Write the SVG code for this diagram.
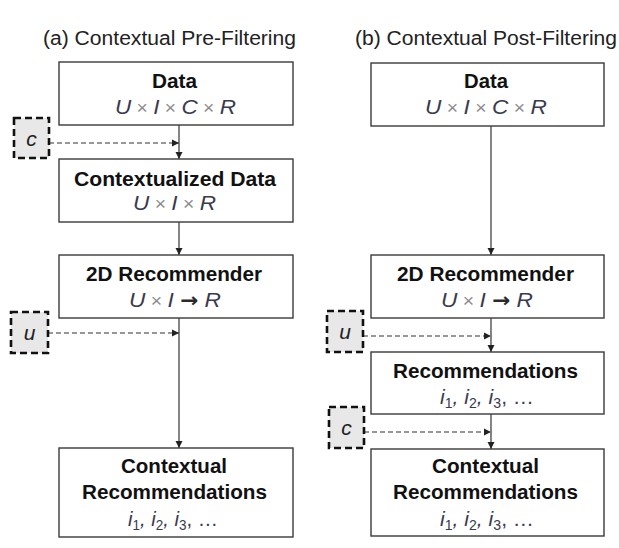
<svg xmlns="http://www.w3.org/2000/svg" width="619" height="548" viewBox="0 0 619 548">
<defs>
<marker id="ah" viewBox="0 0 10 10" refX="10" refY="5" markerWidth="7" markerHeight="8" markerUnits="userSpaceOnUse" orient="auto"><path d="M0,0 L10,5 L0,10 Z" fill="#222"/></marker>
<style>
text{font-family:"Liberation Sans",Arial,sans-serif;}
.title{font-size:19.5px;fill:#222;}
.lbl{font-size:20px;font-weight:bold;fill:#111;}
.math{font-size:21px;font-style:italic;fill:#3a3a4e;}
.x{font-style:normal;fill:#8a8a8a;font-size:18px;}
.arr{font-family:"DejaVu Sans",sans-serif;font-style:normal;font-weight:bold;fill:#2a2a2a;font-size:20px;}
.sub{font-size:14px;font-style:normal;}
.box{fill:#fff;stroke:#3a3a3a;stroke-width:1.4;}
.vbox{fill:#e8e8e8;stroke:#111;stroke-width:2.6;stroke-dasharray:7 4;}
.solid{stroke:#333;stroke-width:1.2;fill:none;}
.dash{stroke:#333;stroke-width:1.1;stroke-dasharray:5 3;fill:none;}
.var{font-size:21px;font-style:italic;fill:#222;}
</style>
</defs>
<text class="title" x="43" y="45" textLength="253" lengthAdjust="spacingAndGlyphs">(a) Contextual Pre-Filtering</text>
<text class="title" x="355" y="45" textLength="262" lengthAdjust="spacingAndGlyphs">(b) Contextual Post-Filtering</text>

<g id="connectors">
<line class="solid" x1="179" y1="125" x2="179" y2="159" marker-end="url(#ah)"/>
<line class="solid" x1="179" y1="222" x2="179" y2="255" marker-end="url(#ah)"/>
<line class="solid" x1="179" y1="318" x2="179" y2="448" marker-end="url(#ah)"/>
<line class="dash" x1="49" y1="143" x2="179" y2="143" marker-end="url(#ah)"/>
<line class="dash" x1="48" y1="333" x2="179" y2="333" marker-end="url(#ah)"/>
<line class="solid" x1="491" y1="126" x2="491" y2="255" marker-end="url(#ah)"/>
<line class="solid" x1="491" y1="318" x2="491" y2="352" marker-end="url(#ah)"/>
<line class="solid" x1="491" y1="414" x2="491" y2="449" marker-end="url(#ah)"/>
<line class="dash" x1="363" y1="336" x2="491" y2="336" marker-end="url(#ah)"/>
<line class="dash" x1="364" y1="432" x2="491" y2="432" marker-end="url(#ah)"/>
</g>

<g id="a-data">
<rect class="box" x="59" y="62" width="234" height="63"/>
<text class="lbl" x="152" y="88" textLength="45" lengthAdjust="spacingAndGlyphs">Data</text>
<text class="math" x="115" y="114" textLength="121" lengthAdjust="spacingAndGlyphs">U<tspan class="x"> × </tspan>I<tspan class="x"> × </tspan>C<tspan class="x"> × </tspan>R</text>
</g>
<g id="a-c">
<rect class="vbox" x="14" y="118" width="35" height="40"/>
<text class="var" x="31.5" y="146" text-anchor="middle">c</text>
</g>
<g id="a-ctxdata">
<rect class="box" x="59" y="159" width="234" height="63"/>
<text class="lbl" x="74" y="186" textLength="202" lengthAdjust="spacingAndGlyphs">Contextualized Data</text>
<text class="math" x="133" y="210" textLength="83" lengthAdjust="spacingAndGlyphs">U<tspan class="x"> × </tspan>I<tspan class="x"> × </tspan>R</text>
</g>
<g id="a-2d">
<rect class="box" x="59" y="255" width="234" height="63"/>
<text class="lbl" x="86" y="281" textLength="176" lengthAdjust="spacingAndGlyphs">2D Recommender</text>
<text class="math" x="129" y="307" textLength="92" lengthAdjust="spacingAndGlyphs">U<tspan class="x"> × </tspan>I <tspan class="arr">→</tspan> R</text>
</g>
<g id="a-u">
<rect class="vbox" x="11" y="312" width="37" height="41"/>
<text class="var" x="29.5" y="340" text-anchor="middle">u</text>
</g>
<g id="a-ctxrec">
<rect class="box" x="59" y="448" width="234" height="89"/>
<text class="lbl" x="121" y="473" textLength="106" lengthAdjust="spacingAndGlyphs">Contextual</text>
<text class="lbl" x="82" y="499" textLength="185" lengthAdjust="spacingAndGlyphs">Recommendations</text>
<text class="math" x="128" y="526" textLength="90" lengthAdjust="spacingAndGlyphs">i<tspan class="sub" dy="4">1</tspan><tspan dy="-4">, i</tspan><tspan class="sub" dy="4">2</tspan><tspan dy="-4">, i</tspan><tspan class="sub" dy="4">3</tspan><tspan dy="-4" style="font-style:normal">,  …</tspan></text>
</g>

<g id="b-data">
<rect class="box" x="371" y="63" width="233" height="63"/>
<text class="lbl" x="464" y="88" textLength="44" lengthAdjust="spacingAndGlyphs">Data</text>
<text class="math" x="425" y="114" textLength="122" lengthAdjust="spacingAndGlyphs">U<tspan class="x"> × </tspan>I<tspan class="x"> × </tspan>C<tspan class="x"> × </tspan>R</text>
</g>
<g id="b-2d">
<rect class="box" x="371" y="255" width="233" height="63"/>
<text class="lbl" x="397" y="281" textLength="177" lengthAdjust="spacingAndGlyphs">2D Recommender</text>
<text class="math" x="441" y="307" textLength="92" lengthAdjust="spacingAndGlyphs">U<tspan class="x"> × </tspan>I <tspan class="arr">→</tspan> R</text>
</g>
<g id="b-u">
<rect class="vbox" x="327" y="311" width="36" height="41"/>
<text class="var" x="345" y="339" text-anchor="middle">u</text>
</g>
<g id="b-rec">
<rect class="box" x="371" y="352" width="233" height="62"/>
<text class="lbl" x="393" y="378" textLength="185" lengthAdjust="spacingAndGlyphs">Recommendations</text>
<text class="math" x="440" y="404" textLength="94" lengthAdjust="spacingAndGlyphs">i<tspan class="sub" dy="4">1</tspan><tspan dy="-4">, i</tspan><tspan class="sub" dy="4">2</tspan><tspan dy="-4">, i</tspan><tspan class="sub" dy="4">3</tspan><tspan dy="-4" style="font-style:normal">,  …</tspan></text>
</g>
<g id="b-c">
<rect class="vbox" x="329" y="407" width="35" height="41"/>
<text class="var" x="346.5" y="435" text-anchor="middle">c</text>
</g>
<g id="b-ctxrec">
<rect class="box" x="371" y="449" width="233" height="87"/>
<text class="lbl" x="432" y="473" textLength="107" lengthAdjust="spacingAndGlyphs">Contextual</text>
<text class="lbl" x="393" y="499" textLength="185" lengthAdjust="spacingAndGlyphs">Recommendations</text>
<text class="math" x="440" y="526" textLength="94" lengthAdjust="spacingAndGlyphs">i<tspan class="sub" dy="4">1</tspan><tspan dy="-4">, i</tspan><tspan class="sub" dy="4">2</tspan><tspan dy="-4">, i</tspan><tspan class="sub" dy="4">3</tspan><tspan dy="-4" style="font-style:normal">,  …</tspan></text>
</g>
</svg>
